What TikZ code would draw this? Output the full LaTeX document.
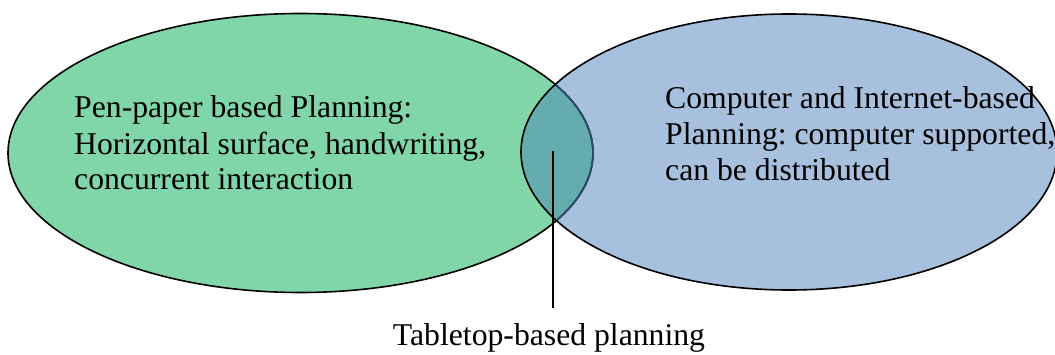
\documentclass[tikz,border=0pt]{standalone}
\usepackage{fontspec}
\setmainfont{Liberation Serif}
\frenchspacing
\definecolor{pengreen}{HTML}{80D6A8}
\definecolor{compblue}{HTML}{A7C0DE}
\definecolor{lensteal}{HTML}{65ACAF}
\definecolor{navyedge}{HTML}{2C4A6A}
\newcommand{\threelines}[3]{\begin{tabular}[t]{@{}l@{}}#1\\#2\\#3\end{tabular}}
\begin{document}
\begin{tikzpicture}[x=1pt,y=1pt,
  outline/.style={line width=1.6pt},
  circletext/.style={font=\fontsize{31.7}{36}\selectfont, inner sep=0pt, anchor=base west},
  labeltext/.style={font=\fontsize{31.7}{36}\selectfont, inner sep=0pt, anchor=base}]
  \useasboundingbox (0,0) rectangle (1055,354);
  % the two planning domains
  \def\penpath{(300.5,201) ellipse [x radius=292.5, y radius=139.5]}
  \def\comppath{(789,202) ellipse [x radius=268, y radius=138]}
  \fill[pengreen] \penpath;
  \fill[compblue] \comppath;
  % their overlap
  \begin{scope}
    \clip \comppath;
    \fill[lensteal] \penpath;
  \end{scope}
  \draw[outline] \penpath;
  \begin{scope}
    \clip \comppath;
    \draw[outline, navyedge] \penpath;
  \end{scope}
  \draw[outline] \comppath;
  % texts
  \node[circletext] (pen) at (74,236) {\threelines{Pen-paper based Planning:}{Horizontal surface, handwriting,}{concurrent interaction}};
  \node[circletext] (comp) at (665,245) {\threelines{Computer and Internet-based}{Planning: computer supported,}{can be distributed}};
  \node[labeltext] (tab) at (549,9) {Tabletop-based planning};
  % pointer from the overlap to its label
  \coordinate (lens) at (553,203);
  \coordinate (lensfoot) at (553,46);
  \draw[line width=1.6pt] (lens) -- (lensfoot);
\end{tikzpicture}
\end{document}
